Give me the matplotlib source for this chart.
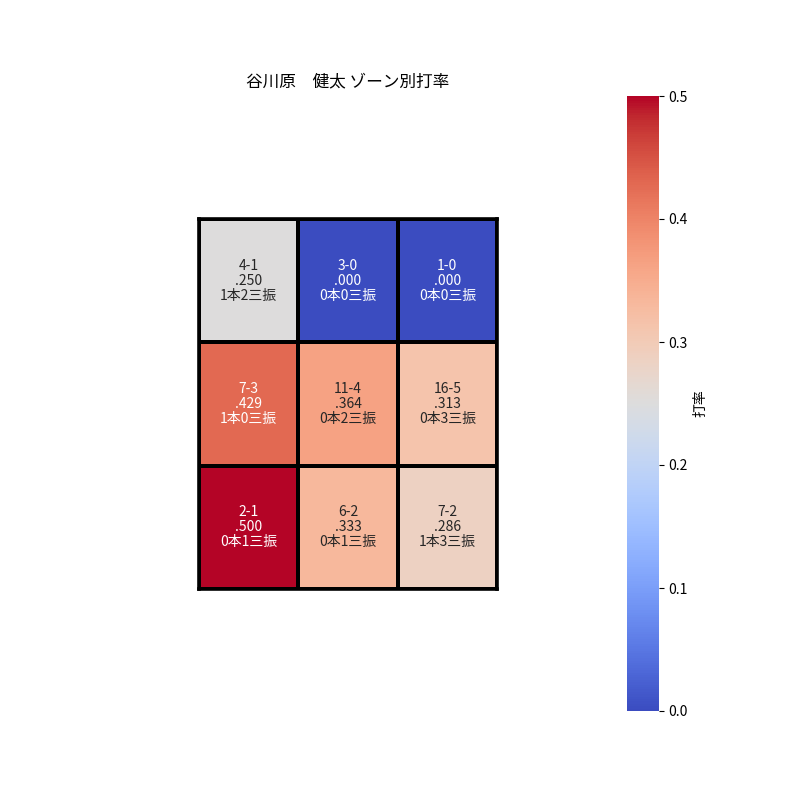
import matplotlib
matplotlib.use("Agg")
import matplotlib.pyplot as plt
import numpy as np
import seaborn as sns

plt.rcParams['font.family'] = ['Noto Sans CJK JP', 'DejaVu Sans']

# ゾーン別データ (上段から)
at_bats = [[4, 3, 1], [7, 11, 16], [2, 6, 7]]
hits = [[1, 0, 0], [3, 4, 5], [1, 2, 2]]
homeruns = [[1, 0, 0], [1, 0, 0], [0, 0, 1]]
strikeouts = [[2, 0, 0], [0, 2, 3], [1, 1, 3]]
avg = [[0.250, 0.000, 0.000], [0.429, 0.364, 0.313], [0.500, 0.333, 0.286]]

labels = []
for i in range(3):
    row = []
    for j in range(3):
        a = f"{avg[i][j]:.3f}".lstrip("0")
        row.append(f"{at_bats[i][j]}-{hits[i][j]}\n{a}\n{homeruns[i][j]}本{strikeouts[i][j]}三振")
    labels.append(row)

fig = plt.figure(figsize=(8, 8), dpi=100)
ax = fig.add_axes([199 / 800, 1 - 589 / 800, 298 / 800, 370 / 800])
cax = fig.add_axes([627 / 800, 1 - 711 / 800, 32 / 800, 615 / 800])

sns.heatmap(np.array(avg), ax=ax, cbar_ax=cax, cmap='coolwarm', vmin=0, vmax=0.5,
            annot=np.array(labels), fmt='', linewidths=2.6, linecolor='black',
            annot_kws={'fontsize': 10, 'linespacing': 1.1}, xticklabels=False, yticklabels=False,
            cbar_kws={'label': '打率'})
for s in ax.spines.values():
    s.set_visible(True)
    s.set_linewidth(2.6)
    s.set_color('black')

cax.tick_params(labelsize=10)
fig.text(348 / 800, 1 - 82 / 800, '谷川原　健太 ゾーン別打率', ha='center', va='center', fontsize=12)

fig.savefig('out.png', dpi=100)
